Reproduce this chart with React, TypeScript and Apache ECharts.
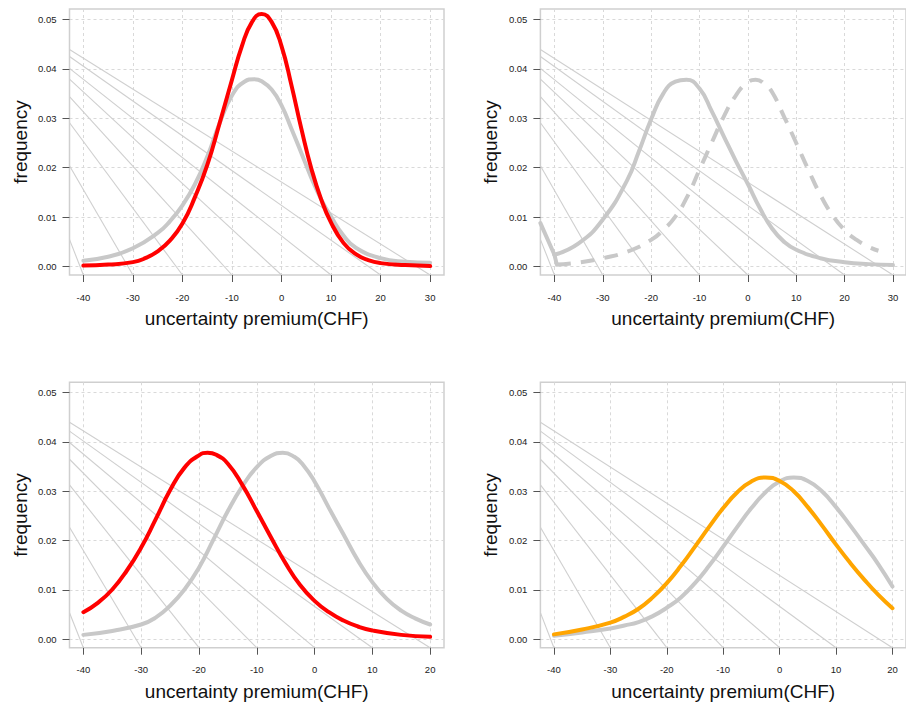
import React, { useEffect, useRef } from "react";
import * as echarts from "echarts";

// ---------- axis ticks ----------
const yTicks = [0, 0.01, 0.02, 0.03, 0.04, 0.05];
const xTicksTop = [-40, -30, -20, -10, 0, 10, 20, 30];
const xTicksBottom = [-40, -30, -20, -10, 0, 10, 20];

// ---------- background guide lines (start height at left edge, end at tick on bottom) ----------
const diagStartsTop = [0.0055, 0.0204, 0.0291, 0.0344, 0.0379, 0.0401, 0.0425, 0.0439];
const diagStartsBottom = [0.0054, 0.0227, 0.0313, 0.0365, 0.0399, 0.0422, 0.044];

// ---------- panel 1 ----------
const p1RedX = [-40, -35, -30, -27.5, -25, -22.5, -20, -17.5, -15, -12.5, -10, -8, -6, -4, -2, 0, 2, 4, 6, 8, 10, 12.5, 15, 17.5, 20, 25, 30];
const p1RedY = [0.0002, 0.0004, 0.0009, 0.0017, 0.0031, 0.0053, 0.0087, 0.014, 0.0205, 0.029, 0.0378, 0.0446, 0.0494, 0.0511, 0.0495, 0.0446, 0.0367, 0.0279, 0.0199, 0.0136, 0.0089, 0.0048, 0.0025, 0.0013, 0.0007, 0.0003, 0.0001];
const p1GrayX = [-40, -35, -30, -25, -22.5, -20, -17.5, -15, -12.5, -10, -7.5, -5.5, -4, -2, 0, 2, 4, 6, 8, 10, 12.5, 15, 20, 25, 30];
const p1GrayY = [0.0012, 0.002, 0.0037, 0.0068, 0.0092, 0.0124, 0.0166, 0.0222, 0.029, 0.0346, 0.0374, 0.0379, 0.0375, 0.0358, 0.0326, 0.0279, 0.023, 0.018, 0.0136, 0.0101, 0.0063, 0.0038, 0.0017, 0.001, 0.0008];

// ---------- panel 2 ----------
const p2EdgeY = [0.0088, 0.0024];
const p2SolidX = [-40, -35, -30, -25, -22.5, -20, -17.5, -15, -12.7, -10, -7.5, -5, -2.5, 0, 2.5, 5, 7.5, 10, 15, 20, 25, 30];
const p2SolidY = [0.0024, 0.0047, 0.0095, 0.0174, 0.0234, 0.0298, 0.035, 0.0374, 0.0378, 0.036, 0.0315, 0.0264, 0.0214, 0.0167, 0.0118, 0.0077, 0.005, 0.0034, 0.0017, 0.0009, 0.0005, 0.0003];
const p2CornerX = [-40, -39.5];
const p2CornerY = [0.0024, 0.0004];
const p2DashX = [-39.5, -35, -30, -25, -20, -17.5, -15, -12.5, -10, -7.5, -5, -2.5, 0, 1.6, 3.5, 5, 7.5, 10, 12.5, 15, 17.5, 20, 22.5, 25, 27];
const p2DashY = [0.0004, 0.0008, 0.0017, 0.003, 0.0054, 0.0074, 0.0101, 0.0142, 0.0196, 0.025, 0.0303, 0.0346, 0.0373, 0.0378, 0.0369, 0.0353, 0.0303, 0.025, 0.0196, 0.0145, 0.0104, 0.0074, 0.0054, 0.004, 0.0032];

// ---------- panel 3 ----------
const p3RedX = [-40, -37.5, -35, -32.5, -30, -27.5, -25, -22.5, -20, -18.5, -17, -15, -12.5, -10, -7.5, -5, -2.5, 0, 2.5, 5, 7.5, 10, 15, 20];
const p3RedY = [0.0055, 0.0074, 0.0101, 0.0139, 0.0186, 0.0243, 0.0302, 0.0348, 0.0373, 0.0378, 0.0374, 0.0356, 0.0313, 0.026, 0.0206, 0.0154, 0.011, 0.0078, 0.0055, 0.0038, 0.0026, 0.0018, 0.0009, 0.0005];
const p3GrayX = [-40, -35, -30, -27.5, -25, -22.5, -20, -17.5, -15, -12.5, -10, -7.5, -5.5, -3.5, -2, 0, 2.5, 5, 7.5, 10, 12.5, 15, 17.5, 20];
const p3GrayY = [0.0009, 0.0017, 0.003, 0.0044, 0.0068, 0.0101, 0.0145, 0.0202, 0.026, 0.031, 0.0349, 0.0372, 0.0378, 0.037, 0.0354, 0.032, 0.0266, 0.0213, 0.016, 0.0116, 0.0082, 0.0058, 0.0042, 0.003];

// ---------- panel 4 ----------
const p4X = [-40, -35, -30, -27.5, -25, -22.5, -20, -17.5, -15, -12.5, -10, -7.5, -5, -2.5, 0, 2.5, 5, 7.5, 10, 12.5, 15, 17.5, 20];
const p4OrangeY = [0.001, 0.002, 0.0034, 0.0046, 0.0062, 0.0085, 0.0114, 0.0149, 0.0188, 0.0228, 0.0266, 0.0298, 0.032, 0.0328, 0.0321, 0.03, 0.0268, 0.0231, 0.0192, 0.0155, 0.0121, 0.009, 0.0063];
const p4GrayY = [0.0007, 0.0014, 0.0022, 0.0028, 0.0035, 0.0047, 0.0064, 0.0085, 0.0114, 0.0149, 0.0188, 0.0228, 0.0266, 0.0298, 0.032, 0.0328, 0.0321, 0.03, 0.0268, 0.0231, 0.0192, 0.0152, 0.0107];

const FONT = "'Liberation Sans', Arial, sans-serif";
const RED = "#ff0000";
const ORANGE = "#ffa500";
const GRAY = "#c8c8c8";

const zip = (xs: number[], ys: number[]) => xs.map((x, i) => [x, ys[i]]);

const panels = [
  { left: 69.5, top: 9, width: 374.5, height: 266, xMin: -42.8, xMax: 32.8, yMin: -0.0017, yMax: 0.0521, xTicks: xTicksTop, diag: diagStartsTop },
  { left: 540.4, top: 9, width: 374.4, height: 266, xMin: -42.9, xMax: 32.7, yMin: -0.0017, yMax: 0.0521, xTicks: xTicksTop, diag: diagStartsTop },
  { left: 69.5, top: 382.3, width: 374.5, height: 265.4, xMin: -42.4, xMax: 22.4, yMin: -0.0017, yMax: 0.0521, xTicks: xTicksBottom, diag: diagStartsBottom },
  { left: 540.4, top: 382.3, width: 374.5, height: 265.4, xMin: -42.4, xMax: 22.4, yMin: -0.0017, yMax: 0.0521, xTicks: xTicksBottom, diag: diagStartsBottom },
];

function curve(gi: number, data: number[][], color: string, width: number, extra: any = {}) {
  return {
    type: "line",
    xAxisIndex: gi,
    yAxisIndex: gi,
    data,
    showSymbol: false,
    symbol: "none",
    smooth: 0.5,
    silent: true,
    z: 3,
    lineStyle: { color, width, cap: "round", join: "round", ...(extra.lineStyle || {}) },
    ...extra.series,
  };
}

export default function App() {
  const ref = useRef<HTMLDivElement>(null);
  useEffect(() => {
    const chart = echarts.init(ref.current!, null, { renderer: "svg" });

    const grid = panels.map((p) => ({
      left: p.left,
      top: p.top,
      width: p.width,
      height: p.height,
      show: true,
      borderColor: "#cfcfcf",
      borderWidth: 1.5,
      backgroundColor: "transparent",
      containLabel: false,
    }));

    const xAxis = panels.map((p, gi) => ({
      type: "value",
      gridIndex: gi,
      min: p.xMin,
      max: p.xMax,
      position: "bottom",
      axisLine: { show: false, onZero: false },
      axisTick: { show: true, customValues: p.xTicks, length: 7, lineStyle: { color: "#555", width: 1 } },
      axisLabel: { customValues: p.xTicks, margin: 17, fontSize: 9.5, color: "#222", fontFamily: FONT },
      splitLine: { show: true, lineStyle: { color: "#d9d9d9", type: [3, 3], width: 1 } },
      name: "uncertainty premium(CHF)",
      nameLocation: "middle",
      nameGap: 34,
      nameTextStyle: { fontSize: 19, color: "#111", fontFamily: FONT },
    }));

    const yAxis = panels.map((p, gi) => ({
      type: "value",
      gridIndex: gi,
      min: p.yMin,
      max: p.yMax,
      position: "left",
      axisLine: { show: false, onZero: false },
      axisTick: { show: true, customValues: yTicks, length: 7, lineStyle: { color: "#555", width: 1 } },
      axisLabel: {
        customValues: yTicks,
        margin: 13,
        fontSize: 9.5,
        color: "#222",
        fontFamily: FONT,
        formatter: (v: number) => v.toFixed(2),
      },
      splitLine: { show: true, lineStyle: { color: "#d9d9d9", type: [3, 3], width: 1 } },
      name: "frequency",
      nameLocation: "middle",
      nameGap: 40,
      nameTextStyle: { fontSize: 19, color: "#111", fontFamily: FONT },
    }));

    const series: any[] = [];
    panels.forEach((p, gi) => {
      p.diag.forEach((s, i) => {
        series.push({
          type: "line",
          xAxisIndex: gi,
          yAxisIndex: gi,
          data: [
            [p.xMin, s],
            [p.xTicks[i], p.yMin],
          ],
          showSymbol: false,
          symbol: "none",
          silent: true,
          z: 1,
          lineStyle: { color: "#cfcfcf", width: 1.1 },
        });
      });
    });

    // panel 1
    series.push(curve(0, zip(p1GrayX, p1GrayY), GRAY, 4));
    series.push(curve(0, zip(p1RedX, p1RedY), RED, 4));
    // panel 2
    series.push(curve(1, zip([panels[1].xMin, -40], p2EdgeY), GRAY, 4, { series: { smooth: false } }));
    series.push(curve(1, zip(p2SolidX, p2SolidY), GRAY, 4));
    series.push(curve(1, zip(p2CornerX, p2CornerY), GRAY, 4, { series: { smooth: false } }));
    series.push(curve(1, zip(p2DashX, p2DashY), GRAY, 4, { lineStyle: { type: [14, 10], cap: "butt" } }));
    // panel 3
    series.push(curve(2, zip(p3GrayX, p3GrayY), GRAY, 4));
    series.push(curve(2, zip(p3RedX, p3RedY), RED, 4));
    // panel 4
    series.push(curve(3, zip(p4X, p4GrayY), GRAY, 4));
    series.push(curve(3, zip(p4X, p4OrangeY), ORANGE, 4));

    chart.setOption({
      animation: false,
      backgroundColor: "#ffffff",
      textStyle: { fontFamily: FONT },
      grid,
      xAxis,
      yAxis,
      series,
    });
    return () => chart.dispose();
  }, []);
  return <div ref={ref} style={{ position: "absolute", left: 0, top: 0, width: 906, height: 705 }} />;
}
